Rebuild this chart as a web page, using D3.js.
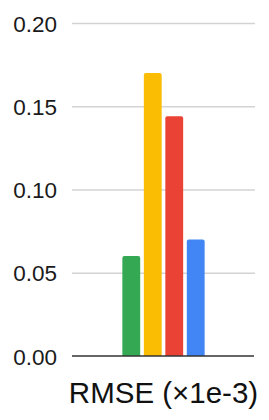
<!DOCTYPE html>
<html>
<head>
<meta charset="utf-8">
<script src="https://cdn.jsdelivr.net/npm/d3@7"></script>
<style>
  html, body { margin: 0; padding: 0; background: #fff; }
  svg { display: block; }
</style>
</head>
<body>
<svg id="chart" width="269" height="420"></svg>
<script>
const categories = ["RMSE (×1e-3)"];
const seriesNames = ["Series 1", "Series 2", "Series 3", "Series 4"];
const seriesValues = [0.060, 0.170, 0.144, 0.070];
const seriesColors = ["#34A853", "#FBBC04", "#EA4335", "#4285F4"];
const yTicks = [0, 0.05, 0.10, 0.15, 0.20];

(function () {
const svg = d3.select("#chart");
const plotLeft = 72, plotRight = 255, plotTop = 23, plotBottom = 356;

const x0 = d3.scaleBand().domain(categories).range([plotLeft, plotRight]).paddingInner(0).paddingOuter(0.612);
const x1 = d3.scaleBand().domain(seriesNames).range([0, x0.bandwidth()]).paddingInner(0.17).paddingOuter(0);
const y = d3.scaleLinear().domain([0, 0.2]).range([plotBottom, plotTop]);

// gridlines
const yAxis = d3.axisLeft(y).tickValues(yTicks).tickFormat(d3.format(".2f")).tickSize(-(plotRight - plotLeft)).tickPadding(15);
const gy = svg.append("g").attr("transform", `translate(${plotLeft},0)`).call(yAxis);
gy.select(".domain").remove();
gy.attr("font-size", null).attr("font-family", null);
gy.selectAll(".tick line").attr("stroke", "#d3d3d3").attr("stroke-width", 1.3)
  .filter(d => d === 0).attr("stroke", "none");
gy.selectAll(".tick text")
  .attr("fill", "#1a1a1a")
  .style("font-family", "Arial, 'Liberation Sans', sans-serif")
  .style("font-size", "22.5px")
  .attr("dy", "0.36em");

// bars with rounded top corners
const r = 2;
const g = svg.append("g");
categories.forEach(cat => {
  seriesNames.forEach((s, i) => {
    const xPos = x0(cat) + x1(s);
    const w = x1.bandwidth();
    const yTop = y(seriesValues[i]);
    const yBot = y(0);
    const p = `M${xPos},${yBot} L${xPos},${yTop + r} Q${xPos},${yTop} ${xPos + r},${yTop} L${xPos + w - r},${yTop} Q${xPos + w},${yTop} ${xPos + w},${yTop + r} L${xPos + w},${yBot} Z`;
    g.append("path").attr("d", p).attr("fill", seriesColors[i]);
  });
});

// baseline
svg.append("line")
  .attr("x1", plotLeft).attr("x2", plotRight - 1)
  .attr("y1", y(0)).attr("y2", y(0))
  .attr("stroke", "#333").attr("stroke-width", 1.3);

// category axis label
const xAxis = d3.axisBottom(x0).tickSize(0).tickPadding(0);
const gx = svg.append("g").attr("transform", `translate(0,${y(0)})`).call(xAxis);
gx.select(".domain").remove();
gx.attr("font-size", null).attr("font-family", null);
gx.selectAll(".tick text")
  .attr("fill", "#111")
  .style("font-family", "Arial, 'Liberation Sans', sans-serif")
  .style("font-size", "29.5px")
  .attr("dy", null)
  .attr("y", 47);
})();
</script>
</body>
</html>
